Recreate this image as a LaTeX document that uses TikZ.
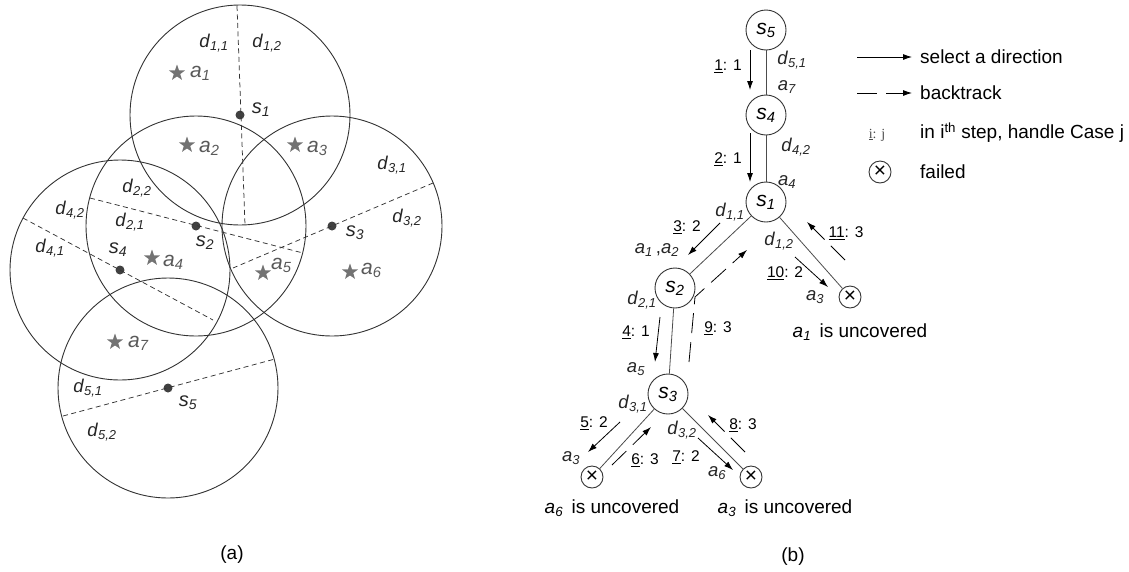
\documentclass[tikz,border=0pt]{standalone}
\usepackage{fontspec}
\setmainfont{Liberation Sans}
\newfontfamily\legendserif{Liberation Serif}
\usetikzlibrary{arrows.meta, shapes.geometric}
\newcommand{\lab}[2]{\textit{#1}\textsubscript{\textit{#2}}}
\newcommand{\stp}[2]{\underline{#1}: #2}

\begin{document}
\begin{tikzpicture}[x=1pt, y=-1pt,
    rangecircle/.style={draw=black!80, line width=0.9pt},
    splitline/.style={draw=black!80, line width=0.75pt, dash pattern=on 5pt off 3.5pt},
    sdot/.style={circle, fill=black!75, inner sep=0pt, minimum size=9pt},
    target/.style={star, star points=5, star point ratio=2.5, fill=black!55, inner sep=0pt, minimum size=17pt},
    dlab/.style={font=\fontsize{18.5}{20}\selectfont, text=black!85, inner sep=0pt},
    alab/.style={font=\fontsize{21}{23}\selectfont, text=black!65, inner sep=0pt, anchor=west},
    slab/.style={font=\fontsize{20}{22}\selectfont, text=black!85, inner sep=0pt},
    sensor/.style={circle, draw=black!80, line width=0.9pt, minimum size=40pt, inner sep=0pt, font=\fontsize{21}{22}\selectfont},
    failnode/.style={circle, draw=black!80, line width=0.9pt, minimum size=22pt, inner sep=0pt, font=\fontsize{21}{21}\selectfont},
    treeedge/.style={draw=black!70, line width=0.8pt},
    selarrow/.style={-{Latex[length=9pt,width=6pt]}, line width=0.8pt},
    backarrow/.style={selarrow, dash pattern=on 20pt off 9pt},
    steplab/.style={font=\fontsize{15.5}{17}\selectfont, inner sep=0pt},
    txt/.style={font=\fontsize{19}{21}\selectfont, inner sep=0pt}]
    \useasboundingbox (0,0) rectangle (1129,571);

    % ---------- (a) sensing ranges ----------
    % Draw sensors
    \node[sdot] (p1) at (240,115) {};
    \node[sdot] (p2) at (196,226) {};
    \node[sdot] (p3) at (332,226) {};
    \node[sdot] (p4) at (120,270) {};
    \node[sdot] (p5) at (168,388) {};

    % Draw ranges
    \draw[rangecircle] (p1.center) circle[radius=110pt];
    \draw[rangecircle] (p2.center) circle[radius=110pt];
    \draw[rangecircle] (p3.center) circle[radius=110pt];
    \draw[rangecircle] (p4.center) circle[radius=110pt];
    \draw[rangecircle] (p5.center) circle[radius=110pt];

    % Draw splitting lines
    \coordinate (c1a) at (237,6);   \coordinate (c1b) at (245,225);
    \coordinate (c2a) at (90,198);  \coordinate (c2b) at (303,253);
    \coordinate (c3a) at (433,183); \coordinate (c3b) at (233,268);
    \coordinate (c4a) at (23,218);  \coordinate (c4b) at (213,320);
    \coordinate (c5a) at (63,416);  \coordinate (c5b) at (275,359);
    \draw[splitline] (c1a) -- (c1b);
    \draw[splitline] (c2a) -- (c2b);
    \draw[splitline] (c3a) -- (c3b);
    \draw[splitline] (c4a) -- (c4b);
    \draw[splitline] (c5a) -- (c5b);

    % Targets
    \node[target] (q1) at (177,73) {};
    \node[target] (q2) at (187,145) {};
    \node[target] (q3) at (295,145) {};
    \node[target] (q4) at (152,258) {};
    \node[target] (q5) at (263,273) {};
    \node[target] (q6) at (350,272) {};
    \node[target] (q7) at (115,342) {};
    \node[alab] (la1) at (190,73) {\lab{a}{1}};
    \node[alab] (la2) at (199,148) {\lab{a}{2}};
    \node[alab] (la3) at (307,148) {\lab{a}{3}};
    \node[alab] (la4) at (163,262) {\lab{a}{4}};
    \node[alab] (la5) at (271,265) {\lab{a}{5}};
    \node[alab] (la6) at (361,270) {\lab{a}{6}};
    \node[alab] (la7) at (128,343) {\lab{a}{7}};

    % Labels
    \node[slab] (ls1) at (261,110) {\lab{s}{1}};
    \node[slab] (ls2) at (205,243) {\lab{s}{2}};
    \node[slab] (ls3) at (355,233) {\lab{s}{3}};
    \node[slab] (ls4) at (118,250) {\lab{s}{4}};
    \node[slab] (ls5) at (188,403) {\lab{s}{5}};
    \node[dlab] (d11) at (214,43) {\lab{d}{1,1}};
    \node[dlab] (d12) at (267,43) {\lab{d}{1,2}};
    \node[dlab] (d21) at (130,222) {\lab{d}{2,1}};
    \node[dlab] (d22) at (137,188) {\lab{d}{2,2}};
    \node[dlab] (d31) at (392,165) {\lab{d}{3,1}};
    \node[dlab] (d32) at (407,218) {\lab{d}{3,2}};
    \node[dlab] (d41) at (50,248) {\lab{d}{4,1}};
    \node[dlab] (d42) at (70,210) {\lab{d}{4,2}};
    \node[dlab] (d51) at (88,388) {\lab{d}{5,1}};
    \node[dlab] (d52) at (102,432) {\lab{d}{5,2}};
    \node[txt] (capa) at (232,555) {(a)};

    % ---------- (b) search tree ----------
    % Draw nodes
    \node[sensor] (t5) at (766,30) {\lab{s}{5}};
    \node[sensor] (t4) at (766,115) {\lab{s}{4}};
    \node[sensor] (t1) at (766,202) {\lab{s}{1}};
    \node[sensor] (t2) at (675,288) {\lab{s}{2}};
    \node[sensor] (t3) at (668,394) {\lab{s}{3}};
    \node[failnode] (f1) at (592,477) {×};
    \node[failnode] (f2) at (751,477) {×};
    \node[failnode] (f3) at (850,297) {×};

    % Draw connections
    \draw[treeedge] (t5) -- (t4);
    \draw[treeedge] (t4) -- (t1);
    \draw[treeedge] (t1) -- (t2);
    \draw[treeedge] (t2) -- (t3);
    \draw[treeedge] (t3) -- (f1);
    \draw[treeedge] (t3) -- (f2);
    \draw[treeedge] (t1) -- (f3);

    % Edge labels
    \node[dlab] (e51) at (792,60) {\lab{d}{5,1}};
    \node[dlab] (e42) at (796,147) {\lab{d}{4,2}};
    \node[dlab] (e11) at (730,212) {\lab{d}{1,1}};
    \node[dlab] (e12) at (779,241) {\lab{d}{1,2}};
    \node[dlab] (e21) at (642,300) {\lab{d}{2,1}};
    \node[dlab] (e31) at (633,404) {\lab{d}{3,1}};
    \node[dlab] (e32) at (682,430) {\lab{d}{3,2}};
    \node[dlab] (b7) at (787,87) {\lab{a}{7}};
    \node[dlab] (b4) at (787,182) {\lab{a}{4}};
    \node[dlab] (b12) at (657,250) {\lab{a}{1}\,,\lab{a}{2}};
    \node[dlab] (b3r) at (815,297) {\lab{a}{3}};
    \node[dlab] (b5) at (636,369) {\lab{a}{5}};
    \node[dlab] (b3l) at (571,458) {\lab{a}{3}};
    \node[dlab] (b6) at (717,473) {\lab{a}{6}};

    % Search steps
    \coordinate (s1a) at (750,50);  \coordinate (s1b) at (750,90);
    \coordinate (s2a) at (750,133); \coordinate (s2b) at (750,182);
    \coordinate (s3a) at (720,223); \coordinate (s3b) at (688,255);
    \coordinate (s4a) at (660,317); \coordinate (s4b) at (655,362);
    \coordinate (s5a) at (620,422); \coordinate (s5b) at (588,452);
    \coordinate (s6a) at (612,465); \coordinate (s6b) at (651,427);
    \coordinate (s7a) at (698,438); \coordinate (s7b) at (733,470);
    \coordinate (s8a) at (745,452); \coordinate (s8b) at (708,415);
    \coordinate (s9a) at (689,362); \coordinate (s9m) at (695,297);
    \coordinate (s9b) at (747,250);
    \coordinate (s10a) at (795,257); \coordinate (s10b) at (828,287);
    \coordinate (s11a) at (845,260); \coordinate (s11b) at (807,222);
    \draw[selarrow] (s1a) -- (s1b);
    \draw[selarrow] (s2a) -- (s2b);
    \draw[selarrow] (s3a) -- (s3b);
    \draw[selarrow] (s4a) -- (s4b);
    \draw[selarrow] (s5a) -- (s5b);
    \draw[backarrow] (s6a) -- (s6b);
    \draw[selarrow] (s7a) -- (s7b);
    \draw[backarrow] (s8a) -- (s8b);
    \draw[backarrow] (s9a) -- (s9m) -- (s9b);
    \draw[selarrow] (s10a) -- (s10b);
    \draw[backarrow] (s11a) -- (s11b);
    \node[steplab] (n1) at (728,66) {\stp{1}{1}};
    \node[steplab] (n2) at (728,159) {\stp{2}{1}};
    \node[steplab] (n3) at (687,227) {\stp{3}{2}};
    \node[steplab] (n4) at (636,332) {\stp{4}{1}};
    \node[steplab] (n5) at (594,423) {\stp{5}{2}};
    \node[steplab] (n6) at (645,460) {\stp{6}{3}};
    \node[steplab] (n7) at (686,457) {\stp{7}{2}};
    \node[steplab] (n8) at (743,425) {\stp{8}{3}};
    \node[steplab] (n9) at (718,328) {\stp{9}{3}};
    \node[steplab] (n10) at (785,273) {\stp{10}{2}};
    \node[steplab] (n11) at (846,233) {\stp{11}{3}};

    % Results
    \node[txt] (u1) at (860,332) {\lab{a}{1}\, is uncovered};
    \node[txt] (u6) at (612,508) {\lab{a}{6}\, is uncovered};
    \node[txt] (u3) at (785,508) {\lab{a}{3}\, is uncovered};
    \node[txt] (capb) at (793,557) {(b)};

    % Legend
    \coordinate (g1a) at (857,57); \coordinate (g1b) at (912,57);
    \coordinate (g2a) at (857,93); \coordinate (g2b) at (912,93);
    \draw[selarrow] (g1a) -- (g1b);
    \draw[backarrow] (g2a) -- (g2b);
    \node[failnode] (g4) at (880,172) {×};
    \node[font=\legendserif\fontsize{14}{14}\selectfont, text=black!70, inner sep=0pt] (g3) at (877,135) {\underline{i}: j};
    \node[txt, anchor=west] (t1l) at (920,57) {select a direction};
    \node[txt, anchor=west] (t2l) at (920,93) {backtrack};
    \node[txt, anchor=west] (t3l) at (920,133) {in i\textsuperscript{th} step, handle Case j};
    \node[txt, anchor=west] (t4l) at (920,172) {failed};
\end{tikzpicture}
\end{document}
